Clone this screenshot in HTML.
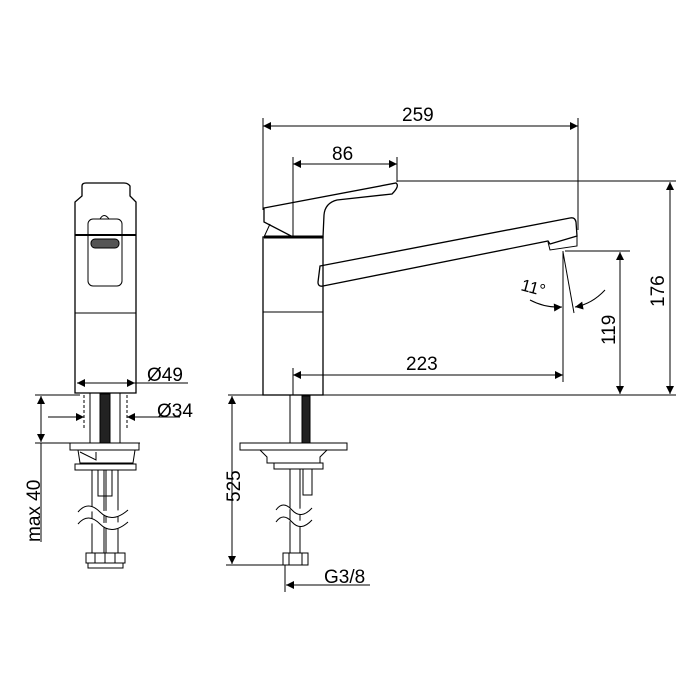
<!DOCTYPE html>
<html><head><style>html,body{margin:0;padding:0;background:#fff}svg{display:block}text{font-family:"Liberation Sans",sans-serif;fill:#000}</style></head><body>
<svg width="696" height="696" viewBox="0 0 696 696" xmlns="http://www.w3.org/2000/svg">
<defs>
<marker id="a" viewBox="0 0 10 10" refX="10" refY="5" markerWidth="16" markerHeight="8" markerUnits="userSpaceOnUse" orient="auto-start-reverse"><path d="M0,0L10,5L0,10z" fill="#000"/></marker>
</defs>
<g stroke="#000" stroke-width="1" fill="none">
<line x1="263" y1="118" x2="263" y2="210"/>
<line x1="578" y1="118" x2="578" y2="230"/>
<line x1="293" y1="157" x2="293" y2="237"/>
<line x1="397" y1="157" x2="397" y2="182"/>
<line x1="397" y1="181" x2="676" y2="181"/>
<line x1="565" y1="251" x2="630" y2="251"/>
<line x1="563" y1="251" x2="563" y2="382"/>
<line x1="563" y1="252" x2="574" y2="313"/>
<line x1="228" y1="395" x2="676" y2="395"/>
<line x1="293" y1="368" x2="293" y2="395"/>
<line x1="226" y1="565" x2="290" y2="565"/>
<line x1="285" y1="565" x2="285" y2="592"/>
<line x1="263" y1="126" x2="578" y2="126" marker-start="url(#a)" marker-end="url(#a)"/>
<line x1="293" y1="164" x2="397" y2="164" marker-start="url(#a)" marker-end="url(#a)"/>
<line x1="293" y1="375" x2="563" y2="375" marker-start="url(#a)" marker-end="url(#a)"/>
<line x1="670" y1="182" x2="670" y2="394" marker-start="url(#a)" marker-end="url(#a)"/>
<line x1="620" y1="252" x2="620" y2="394" marker-start="url(#a)" marker-end="url(#a)"/>
<line x1="232" y1="396" x2="232" y2="564" marker-start="url(#a)" marker-end="url(#a)"/>
<line x1="286" y1="585" x2="370" y2="585" marker-start="url(#a)"/>
<path d="M530,300 Q545,308 562,307" marker-end="url(#a)"/>
<path d="M605,290 Q592,304 575,307" marker-end="url(#a)"/>
<path d="M264,208 L396,183 Q400,186 392,194 L337,200 Q325,203 324,215 L323,237 L293,237 L264,222 Z" stroke-width="1.3"/>
<path d="M270,224 L264,237"/>
<rect x="263" y="237" width="60" height="158" stroke-width="1.3"/>
<line x1="264" y1="237" x2="323" y2="237" stroke-width="3"/>
<line x1="263" y1="312" x2="323" y2="312"/>
<path d="M320,266 L570,218 Q575,217 576,222 L577,236 L550,244 L548,241 L323,286 Q318,287 318,282 Z" stroke-width="1.3"/>
<path d="M548,242 L550,250 L577,246 L577,236"/>
<rect x="290" y="395" width="20" height="48"/>
<rect x="302" y="396" width="8" height="47" fill="#222"/>
<rect x="240" y="443" width="107" height="7"/>
<path d="M260,450 L267,457 L267,463 L320,463 L320,457 L327,450"/>
<rect x="274" y="463" width="49" height="6"/>
<line x1="290" y1="469" x2="290" y2="553"/>
<line x1="300" y1="469" x2="300" y2="553"/>
<rect x="303" y="469" width="9" height="26"/>
<path d="M276,510 Q283,500 292,510 T312,508 M276,522 Q283,512 292,522 T312,520" fill="#fff"/>
<rect x="283" y="553" width="25" height="12"/>
<line x1="289" y1="553" x2="289" y2="565"/><line x1="302" y1="553" x2="302" y2="565"/>

<path d="M75,202 L75,393 L136,393 L136,202 L130,196 L130,186 Q128,183 124,183 L86,183 Q82,183 82,186 L82,196 Z" stroke-width="1.3"/>
<line x1="75" y1="235" x2="136" y2="235" stroke-width="2"/>
<line x1="75" y1="313" x2="136" y2="313"/>
<rect x="88" y="219" width="34" height="67" rx="5"/>
<path d="M100,219 Q104,212 109,219"/>
<rect x="91" y="239" width="28" height="9" rx="4" fill="#555"/>
<line x1="77" y1="383" x2="188" y2="383"/>
<line x1="77" y1="383" x2="135" y2="383" marker-start="url(#a)" marker-end="url(#a)"/>
<line x1="48" y1="417" x2="84" y2="417" marker-end="url(#a)"/>
<line x1="180" y1="417" x2="127" y2="417" marker-end="url(#a)"/>
<line x1="84" y1="395" x2="84" y2="430" stroke-dasharray="3,2"/>
<line x1="127" y1="395" x2="127" y2="430" stroke-dasharray="3,2"/>
<line x1="35" y1="395" x2="80" y2="395"/>
<line x1="35" y1="443" x2="140" y2="443"/>
<line x1="41" y1="396" x2="41" y2="442" marker-start="url(#a)" marker-end="url(#a)"/>
<line x1="41" y1="443" x2="41" y2="542"/>
<rect x="90" y="393" width="30" height="50"/>
<rect x="100" y="394" width="10" height="49" fill="#222"/>
<rect x="70" y="443" width="69" height="7"/>
<path d="M78,450 L80,463 L133,463 L135,450"/>
<path d="M80,452 L96,460 L96,452"/>
<rect x="75" y="464" width="61" height="6"/>
<line x1="92" y1="470" x2="92" y2="553"/><line x1="118" y1="470" x2="118" y2="553"/>
<line x1="104" y1="470" x2="104" y2="553"/><line x1="106" y1="470" x2="106" y2="553"/>
<rect x="98" y="470" width="14" height="26"/>
<path d="M78,512 Q88,500 100,512 T128,510 M78,524 Q88,512 100,524 T128,522" fill="#fff"/>
<rect x="86" y="553" width="39" height="10"/>
<rect x="88" y="563" width="35" height="5"/>
<line x1="95" y1="553" x2="95" y2="563"/><line x1="105" y1="553" x2="105" y2="563"/><line x1="115" y1="553" x2="115" y2="563"/>
</g>
<g font-size="19">
<text x="402" y="121">259</text>
<text x="332" y="160">86</text>
<text x="406" y="370">223</text>
<text x="324" y="583">G3/8</text>
<text x="147" y="381">Ø49</text>
<text x="157" y="417">Ø34</text>
<text transform="translate(664,307) rotate(-90)">176</text>
<text transform="translate(615,345) rotate(-90)">119</text>
<text transform="translate(240,502) rotate(-90)">525</text>
<text transform="translate(40,542) rotate(-90)">max 40</text>
<text transform="translate(520,290) rotate(15)" font-size="17">11°</text>
</g>
</svg>
</body></html>
